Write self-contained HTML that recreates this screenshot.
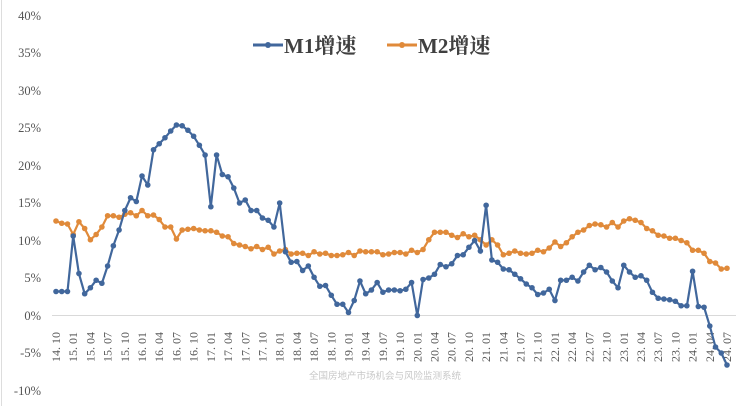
<!DOCTYPE html>
<html><head><meta charset="utf-8"><style>
html,body{margin:0;padding:0;background:#fff;}
svg{display:block;}
</style></head><body>
<svg id="c" width="742" height="406" xmlns="http://www.w3.org/2000/svg" font-family="'Liberation Serif','Noto Serif CJK SC',serif">
<rect width="742" height="406" fill="#fff"/>
<line x1="1.5" y1="0" x2="1.5" y2="406" stroke="#ddd" stroke-width="1"/>
<g fill="#555" font-size="12.5" text-anchor="end">
<text x="41" y="20">40%</text><text x="41" y="57">35%</text><text x="41" y="95">30%</text>
<text x="41" y="132">25%</text><text x="41" y="170">20%</text><text x="41" y="207">15%</text>
<text x="41" y="245">10%</text><text x="41" y="282">5%</text><text x="41" y="320">0%</text>
<text x="41" y="357">-5%</text><text x="41" y="395">-10%</text>
</g>
<line x1="52" y1="315.5" x2="736" y2="315.5" stroke="#d9d9d9" stroke-width="1"/>
<g id="xl" fill="#555" font-size="12"></g>
<text x="385" y="379" fill="#c8c8c8" font-size="9.5" text-anchor="middle" font-family="'Noto Sans CJK SC',sans-serif">全国房地产市场机会与风险监测系统</text>
<g id="s"></g>
<line x1="253" y1="45" x2="283" y2="45" stroke="#41679c" stroke-width="3"/><circle cx="268" cy="45" r="3" fill="#41679c"/>
<text x="284" y="53" font-size="21" font-weight="bold" fill="#404040">M1增速</text>
<line x1="387" y1="45" x2="417" y2="45" stroke="#e08a3a" stroke-width="3"/><circle cx="402" cy="45" r="3" fill="#e08a3a"/>
<text x="418" y="53" font-size="21" font-weight="bold" fill="#404040">M2增速</text>
</svg>
<script>
var m1=[3.2,3.2,3.2,10.6,5.6,2.9,3.7,4.7,4.3,6.6,9.3,11.4,14.0,15.7,15.2,18.6,17.4,22.1,22.9,23.7,24.6,25.4,25.3,24.7,23.9,22.7,21.4,14.5,21.4,18.8,18.5,17.0,15.0,15.4,14.0,14.0,13.0,12.7,11.8,15.0,8.5,7.1,7.2,6.0,6.6,5.1,3.9,4.0,2.7,1.5,1.5,0.4,2.0,4.6,2.9,3.4,4.4,3.1,3.4,3.4,3.3,3.5,4.4,0.0,4.8,5.0,5.5,6.8,6.5,6.9,8.0,8.1,9.1,10.0,8.6,14.7,7.4,7.1,6.2,6.1,5.5,4.9,4.2,3.7,2.8,3.0,3.5,2.0,4.7,4.7,5.1,4.6,5.8,6.7,6.1,6.4,5.8,4.6,3.7,6.7,5.8,5.1,5.3,4.7,3.1,2.3,2.2,2.1,1.9,1.3,1.3,5.9,1.2,1.1,-1.4,-4.2,-5.0,-6.6];
var m2=[12.6,12.3,12.2,10.8,12.5,11.6,10.1,10.8,11.8,13.3,13.3,13.1,13.5,13.7,13.3,14.0,13.3,13.4,12.8,11.8,11.8,10.2,11.4,11.5,11.6,11.4,11.3,11.3,11.1,10.6,10.5,9.6,9.4,9.2,8.9,9.2,8.8,9.1,8.2,8.6,8.8,8.2,8.3,8.3,8.0,8.5,8.2,8.3,8.0,8.0,8.1,8.4,8.0,8.6,8.5,8.5,8.5,8.1,8.2,8.4,8.4,8.2,8.7,8.4,8.8,10.1,11.1,11.1,11.1,10.7,10.4,10.9,10.5,10.7,10.1,9.4,10.1,9.4,8.1,8.3,8.6,8.3,8.2,8.3,8.7,8.5,9.0,9.8,9.2,9.7,10.5,11.1,11.4,12.0,12.2,12.1,11.8,12.4,11.8,12.6,12.9,12.7,12.4,11.6,11.3,10.7,10.6,10.3,10.3,10.0,9.7,8.7,8.7,8.3,7.2,7.0,6.2,6.3];
function X(i){return 56+i*5.735;}function Y(v){return 315.5-v*7.5;}
var ns="http://www.w3.org/2000/svg",s=document.getElementById('s');
function draw(d,c){var p=d.map(function(v,i){return X(i).toFixed(1)+','+Y(v).toFixed(1)}).join(' ');
var pl=document.createElementNS(ns,'polyline');pl.setAttribute('points',p);pl.setAttribute('fill','none');pl.setAttribute('stroke',c);pl.setAttribute('stroke-width','2.2');s.appendChild(pl);
d.forEach(function(v,i){var ci=document.createElementNS(ns,'circle');ci.setAttribute('cx',X(i));ci.setAttribute('cy',Y(v));ci.setAttribute('r','2.8');ci.setAttribute('fill',c);s.appendChild(ci);});}
draw(m2,'#e08a3a');draw(m1,'#41679c');
var xl=document.getElementById('xl');
for(var k=0;k<40;k++){var mo=9+k*3;var yr=14+Math.floor(mo/12);var mm=mo%12+1;
var t=document.createElementNS(ns,'text');var x=X(k*3)+4;
t.setAttribute('transform','translate('+x+',362) rotate(-90)');
t.textContent=yr+'. '+(mm<10?'0':'')+mm;xl.appendChild(t);}
</script>
</body></html>
